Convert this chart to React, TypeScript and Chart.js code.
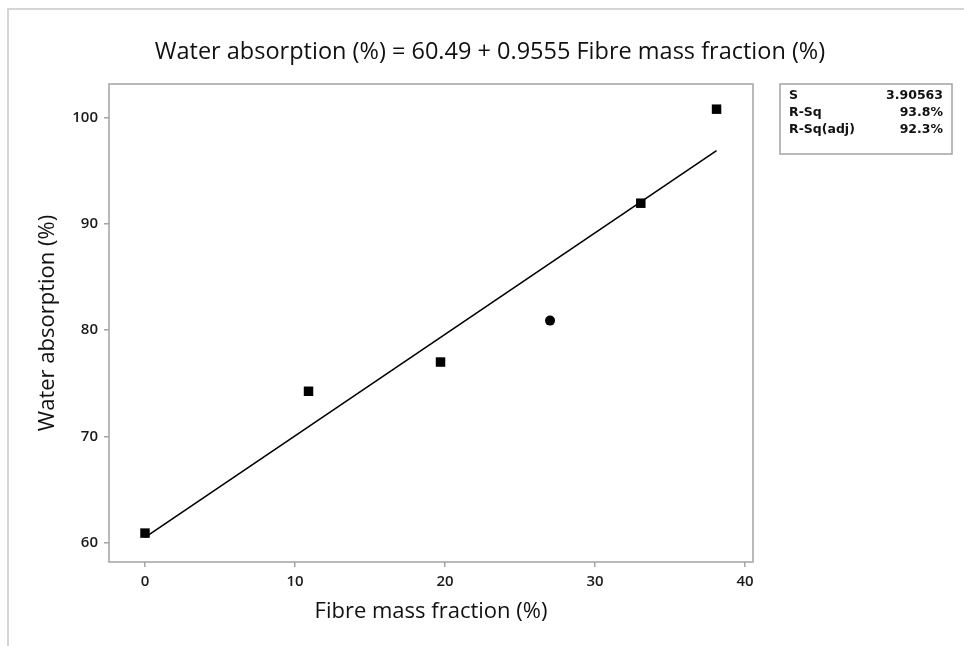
import React, { useEffect, useRef } from 'react';
import { Chart, registerables } from 'chart.js';

Chart.register(...registerables);

// ---- data ----
const fibreMass = [0, 10.9, 19.7, 27.0, 33.05, 38.1];
const waterAbsorption = [60.9, 74.25, 77.0, 80.9, 91.95, 100.8];
const markerShapes = ['rect', 'rect', 'rect', 'circle', 'rect', 'rect'];

const fitX = [0, 38.1];
const fitY = [60.49, 96.9];

const xTicks = [0, 10, 20, 30, 40];
const yTicks = [60, 70, 80, 90, 100];

const statLabels = ['S', 'R-Sq', 'R-Sq(adj)'];
const statValues = ['3.90563', '93.8%', '92.3%'];

const titleText = 'Water absorption (%) = 60.49 + 0.9555 Fibre mass fraction (%)';
const xTitle = 'Fibre mass fraction (%)';
const yTitle = 'Water absorption (%)';

const FONT = '"Open Sans", "Noto Sans", sans-serif';
const FRAME = '#a3a3a3';

const decor = {
  id: 'decor',
  afterDraw(chart: any) {
    const ctx = chart.ctx as CanvasRenderingContext2D;
    const a = chart.chartArea;
    ctx.save();
    // outer image border (top + left)
    ctx.fillStyle = '#d6d6d6';
    ctx.fillRect(7, 8, 964 - 7, 2);
    ctx.fillRect(7, 8, 2, 646 - 8);

    // plot frame
    ctx.strokeStyle = FRAME;
    ctx.lineWidth = 1.5;
    ctx.strokeRect(a.left, a.top, a.right - a.left, a.bottom - a.top);

    // title
    ctx.fillStyle = '#111';
    ctx.textAlign = 'center';
    ctx.textBaseline = 'middle';
    ctx.font = `23.5px ${FONT}`;
    ctx.fillText(titleText, 490, 52);

    // axis titles
    ctx.font = `22px ${FONT}`;
    ctx.fillText(xTitle, (a.left + a.right) / 2, 612);
    ctx.save();
    ctx.translate(48, 323);
    ctx.rotate(-Math.PI / 2);
    ctx.fillText(yTitle, 0, 0);
    ctx.restore();

    // stats box
    const bx = 780, by = 84, bw = 172, bh = 70;
    ctx.strokeStyle = FRAME;
    ctx.lineWidth = 1.5;
    ctx.strokeRect(bx, by, bw, bh);
    ctx.font = `bold 12.5px "DejaVu Sans", sans-serif`;
    ctx.fillStyle = '#111';
    statLabels.forEach((lab, i) => {
      const y = by + 12 + i * 17;
      ctx.textAlign = 'left';
      ctx.fillText(lab, bx + 9, y);
      ctx.textAlign = 'right';
      ctx.fillText(statValues[i], bx + bw - 9, y);
    });
    ctx.restore();
  },
};

export default function App() {
  const ref = useRef<HTMLCanvasElement>(null);
  useEffect(() => {
    document.body.style.margin = '0';
    const canvas = ref.current!;
    const chart = new Chart(canvas, {
      type: 'scatter',
      data: {
        datasets: [
          {
            type: 'line',
            data: fitX.map((x, i) => ({ x, y: fitY[i] })),
            borderColor: '#000',
            borderWidth: 1.6,
            pointRadius: 0,
            fill: false,
            tension: 0,
          } as any,
          {
            type: 'scatter',
            data: fibreMass.map((x, i) => ({ x, y: waterAbsorption[i] })),
            pointStyle: markerShapes as any,
            pointRadius: markerShapes.map((s) => (s === 'circle' ? 5 : 6.7)),
            backgroundColor: '#000',
            borderColor: '#000',
            borderWidth: 0,
          } as any,
        ],
      },
      options: {
        responsive: false,
        animation: false,
        devicePixelRatio: 1,
        layout: { padding: { left: 0, right: 211, top: 84, bottom: 0 } },
        plugins: {
          legend: { display: false },
          tooltip: { enabled: false },
          title: { display: false },
        },
        scales: {
          x: {
            type: 'linear',
            min: -2.4,
            max: 40.53,
            afterBuildTicks: (s: any) => {
              s.ticks = xTicks.map((v) => ({ value: v }));
            },
            afterFit: (s: any) => {
              s.height = 84;
            },
            border: { display: false },
            grid: {
              display: true,
              drawOnChartArea: false,
              drawTicks: true,
              tickLength: 5,
              color: FRAME,
              lineWidth: 1.5,
            },
            ticks: {
              color: '#1a1a1a',
              padding: 6,
              font: { family: FONT, size: 15, weight: 600 as any },
              callback: (v: any) => String(v),
            },
          },
          y: {
            type: 'linear',
            min: 58.18,
            max: 103.17,
            afterBuildTicks: (s: any) => {
              s.ticks = yTicks.map((v) => ({ value: v }));
            },
            afterFit: (s: any) => {
              s.width = 109;
            },
            border: { display: false },
            grid: {
              display: true,
              drawOnChartArea: false,
              drawTicks: true,
              tickLength: 5,
              color: FRAME,
              lineWidth: 1.5,
            },
            ticks: {
              color: '#1a1a1a',
              padding: 6,
              font: { family: FONT, size: 15, weight: 600 as any },
              callback: (v: any) => String(v),
            },
          },
        },
      },
      plugins: [decor],
    });
    return () => chart.destroy();
  }, []);
  return <canvas ref={ref} width={964} height={646} style={{ display: 'block' }} />;
}
